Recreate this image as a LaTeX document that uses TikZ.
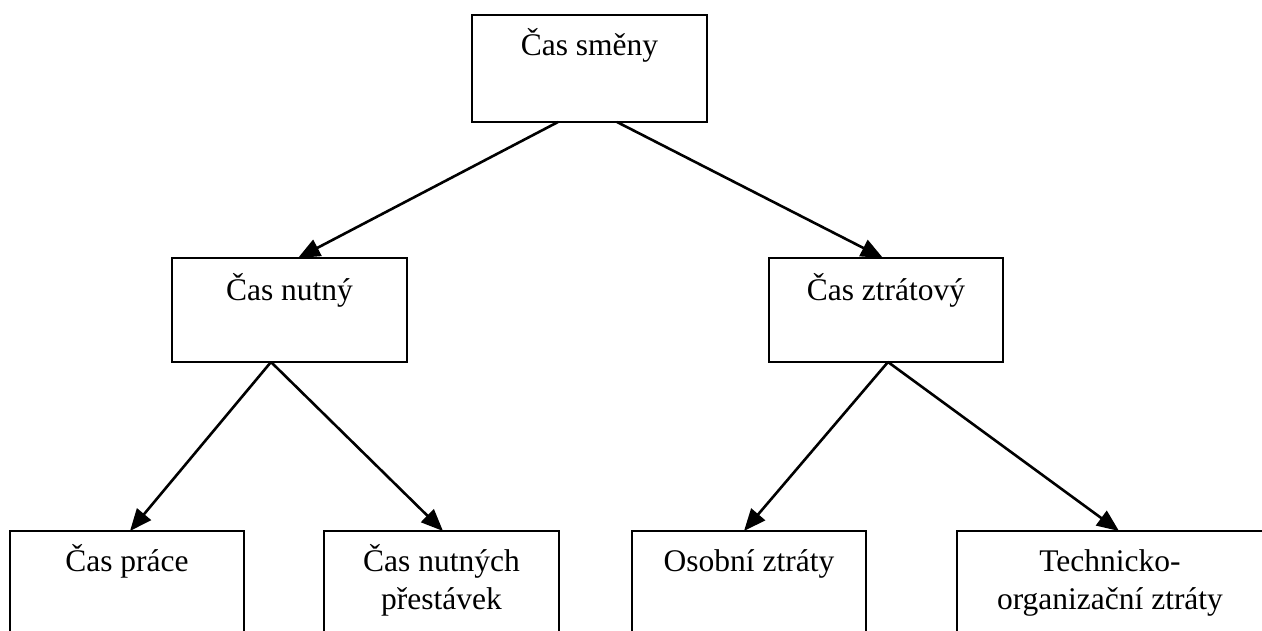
\documentclass[tikz,border=0pt]{standalone}
\usepackage{fontspec}
\setmainfont{Liberation Serif}
\usetikzlibrary{arrows.meta}
\begin{document}
\begin{tikzpicture}[x=1pt,y=-1pt,
  box/.style={draw=black, line width=2.4pt, rectangle, inner sep=0pt, outer sep=0pt, anchor=north west},
  lbl/.style={anchor=base, inner sep=0pt, font=\fontsize{31.5}{38}\selectfont},
  link/.style={line width=2.6pt, -{Triangle[length=22pt,width=18pt]}}]
\useasboundingbox (0,0) rectangle (1262,630);
\clip (0,0) rectangle (1262,630);
% boxes
\node[box, minimum width=235pt, minimum height=107pt] (smena) at (472,15) {};
\node[box, minimum width=235pt, minimum height=104pt] (nutny) at (172,258) {};
\node[box, minimum width=234pt, minimum height=104pt] (ztrat) at (769,258) {};
\node[box, minimum width=234pt, minimum height=140pt] (prace) at (10,531) {};
\node[box, minimum width=235pt, minimum height=140pt] (prest) at (324,531) {};
\node[box, minimum width=234pt, minimum height=140pt] (osob) at (632,531) {};
\node[box, minimum width=308pt, minimum height=140pt] (tech) at (957,531) {};
% labels
\node[lbl] (tsmena) at ([yshift=-40pt]smena.north) {Čas směny};
\node[lbl] (tnutny) at ([yshift=-42pt]nutny.north) {Čas nutný};
\node[lbl] (tztrat) at ([yshift=-42pt]ztrat.north) {Čas ztrátový};
\node[lbl] (tprace) at ([yshift=-40pt]prace.north) {Čas práce};
\node[lbl] (tprest) at ([yshift=-40pt]prest.north) {\begin{tabular}[t]{@{}c@{}}Čas nutných\\přestávek\end{tabular}};
\node[lbl] (tosob) at ([yshift=-40pt]osob.north) {Osobní ztráty};
\node[lbl] (ttech) at ([xshift=153pt,yshift=-40pt]tech.north west) {\begin{tabular}[t]{@{}c@{}}Technicko-\\organizační ztráty\end{tabular}};
% connectors
\draw[link] ([xshift=86pt]smena.south west) -- ([xshift=126pt]nutny.north west);
\draw[link] ([xshift=145pt]smena.south west) -- ([xshift=114pt]ztrat.north west);
\draw[link] ([xshift=99pt]nutny.south west) -- ([xshift=120pt]prace.north west);
\draw[link] ([xshift=99pt]nutny.south west) -- ([xshift=119pt]prest.north west);
\draw[link] ([xshift=119pt]ztrat.south west) -- ([xshift=112pt]osob.north west);
\draw[link] ([xshift=119pt]ztrat.south west) -- ([xshift=162pt]tech.north west);
\end{tikzpicture}
\end{document}
